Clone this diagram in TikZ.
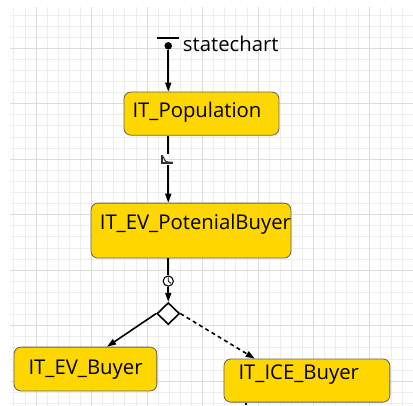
\documentclass[tikz,border=0pt]{standalone}
\usepackage{fontspec}
\setmainfont{Open Sans}
\usepackage{xcolor}
\usepackage{tikz}
\usetikzlibrary{arrows.meta,shapes.geometric}
\definecolor{stategold}{HTML}{FFD700}

\begin{document}
\begin{tikzpicture}[
  state/.style={draw=gray!75!black, fill=stategold, rounded corners=0.18cm, line width=0.6pt, inner sep=0},
  statetxt/.style={font=\fontsize{15.3}{18}\selectfont, anchor=base west, inner sep=0},
  arr/.style={-{Triangle[length=2.4mm,width=1.6mm]}, line width=1.2pt},
  link/.style={line width=1.2pt},
  gridminor/.style={gray!14, line width=0.5pt},
  gridmajor/.style={gray!28, line width=0.6pt},
]
\useasboundingbox (0,0) rectangle (10.93,10.72);
% background grid
\begin{scope}
\clip (0.265,0) rectangle (10.93,10.53);
\draw[gridminor, shift={(0.953,9.446)}] (-1,-10) grid[step=0.2937] (10.5,1.5);
\draw[gridmajor, shift={(0.953,9.446)}] (-1.47,-10.28) grid[step=1.4685] (10.28,1.47);
\end{scope}

% initial pointer
\node[circle, fill, inner sep=0, minimum size=0.2cm] (init) at (4.453,9.507) {};
\draw[line width=1.4pt] ([shift={(-0.29,0.2)}]init.center) -- ++(0.58,0);
\node[statetxt] (chartname) at (4.834,9.348) {statechart};

\node[state, minimum width=4.10cm, minimum height=1.14cm] (pop) at (5.332,7.713) {};
\node[statetxt] (poptxt) at (3.50,7.602) {IT\_Population};
\draw[arr] (init) -- (init |- pop.north);

% rate trigger
\node[inner sep=0, minimum width=0.34cm, minimum height=0.29cm] (rate) at (4.453,6.496) {};
\draw[line width=0.8pt, gray!40!black] ([shift={(-0.165,0.12)}]rate.center) -- ++(0,-0.21) -- ++(0.28,0);
\draw[line width=0.8pt, gray!40!black] ([shift={(-0.13,0.08)}]rate.center) .. controls ([shift={(-0.08,-0.07)}]rate.center) .. ([shift={(0.11,-0.065)}]rate.center);

\node[state, minimum width=5.29cm, minimum height=1.455cm] (pb) at (5.054,4.617) {};
\node[statetxt] (pbtxt) at (2.635,4.649) {IT\_EV\_PotenialBuyer};
\draw[link] (rate |- pop.south) -- (rate.north);
\draw[arr] (rate.south) -- (rate |- pb.north);

% timeout trigger and branch
\node[circle, draw, line width=0.8pt, fill=white, inner sep=0, minimum size=0.27cm] (clock) at (4.453,3.281) {};
\draw[line width=0.6pt] (clock.center) -- ++(0,0.1) (clock.center) -- ++(0.07,-0.06);
\node[diamond, draw, line width=1.2pt, fill=white, inner sep=0, minimum width=0.6cm, minimum height=0.58cm] (dec) at (4.453,2.421) {};
\draw[link] (clock |- pb.south) -- (clock.north);
\draw[arr] (clock.south) -- (dec.north);

\node[state, minimum width=3.78cm, minimum height=1.16cm] (ev) at (2.262,0.953) {};
\node[statetxt] (evtxt) at (0.749,0.820) {IT\_EV\_Buyer};
\node[state, minimum width=4.39cm, minimum height=1.14cm] (ice) at (8.123,0.648) {};
\node[statetxt] (icetxt) at (6.306,0.688) {IT\_ICE\_Buyer};
\draw[arr] (dec.west) -- ([xshift=0.57cm]ev.north);
\draw[arr, dash pattern=on 3pt off 2.5pt] (dec.east) -- ([xshift=-1.38cm]ice.north);
\coordinate (icenext) at (6.509,0);
\draw[link] (icenext |- ice.south) -- (icenext);
\end{tikzpicture}
\end{document}
